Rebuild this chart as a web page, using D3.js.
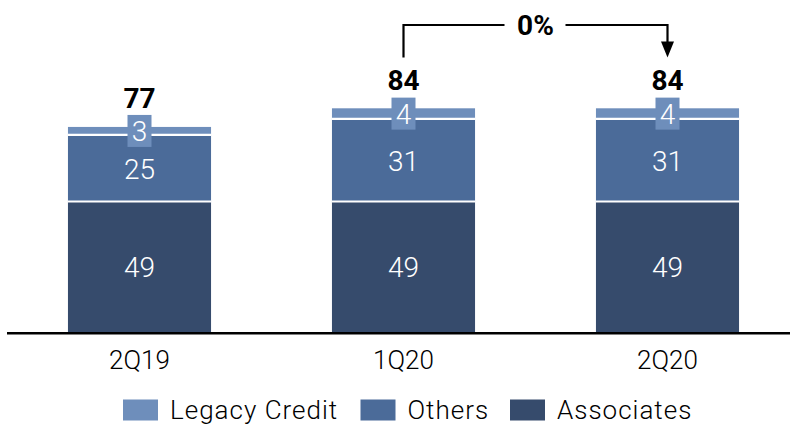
<!DOCTYPE html>
<html><head><meta charset="utf-8">
<script src="https://cdn.jsdelivr.net/npm/d3@7/dist/d3.min.js"></script>
<style>
body{margin:0;background:#fff}
svg{display:block}
text{font-family:Roboto,"Liberation Sans",Arial,sans-serif}
</style>
</head><body>
<svg id="chart" width="790" height="425"></svg>
<script>
// ---- data ----
const categories = ["2Q19", "1Q20", "2Q20"];
const associates = [49, 49, 49];
const others = [25, 31, 31];
const legacyCredit = [3, 4, 4];
const totals = [77, 84, 84];
const seriesNames = ["Legacy Credit", "Others", "Associates"];
const changeFrom = "1Q20", changeTo = "2Q20", changeLabel = "0%";

// ---- styles ----
const colors = {"Associates": "#364b6c", "Others": "#4b6b99", "Legacy Credit": "#6e8ebb"};

const rows = categories.map((c, i) => ({
  cat: c, "Associates": associates[i], "Others": others[i], "Legacy Credit": legacyCredit[i], total: totals[i]
}));
const stackKeys = ["Associates", "Others", "Legacy Credit"];
const series = d3.stack().keys(stackKeys)(rows);

const svg = d3.select("#chart");
const x = d3.scaleBand().domain(categories).range([7.5, 799.5]).paddingInner(0.458).paddingOuter(0.229);
const y = d3.scaleLinear().domain([0, 84]).range([332, 108.3]);
const bw = x.bandwidth();

// bars
const g = svg.append("g");
series.forEach(s => {
  g.selectAll(null).data(s).enter().append("rect")
    .attr("x", d => x(d.data.cat))
    .attr("y", d => y(d[1]))
    .attr("width", bw)
    .attr("height", d => y(d[0]) - y(d[1]))
    .attr("fill", colors[s.key]);
  if (s.index > 0) {
    g.selectAll(null).data(s).enter().append("line")
      .attr("x1", d => x(d.data.cat)).attr("x2", d => x(d.data.cat) + bw)
      .attr("y1", d => y(d[0])).attr("y2", d => y(d[0]))
      .attr("stroke", "#fff").attr("stroke-width", 2.2);
  }
});

// segment labels
series.forEach(s => {
  if (s.key === "Legacy Credit") {
    const lg = g.selectAll(null).data(s).enter().append("g")
      .attr("transform", d => `translate(${x(d.data.cat) + bw / 2},${(y(d[0]) + y(d[1])) / 2})`);
    lg.append("rect").attr("x", -12).attr("y", -16).attr("width", 24).attr("height", 32)
      .attr("fill", colors[s.key]);
    lg.append("text").attr("text-anchor", "middle").attr("y", 10)
      .attr("fill", "#fff").attr("font-size", 28).attr("font-weight", 300)
      .text(d => d.data[s.key]);
  } else {
    g.selectAll(null).data(s).enter().append("text")
      .attr("x", d => x(d.data.cat) + bw / 2)
      .attr("y", d => (y(d[0]) + y(d[1])) / 2 + 10.5)
      .attr("text-anchor", "middle").attr("fill", "#fff")
      .attr("font-size", 28).attr("font-weight", 300)
      .text(d => d.data[s.key]);
  }
});

// totals
svg.selectAll(null).data(rows).enter().append("text")
  .attr("x", d => x(d.cat) + bw / 2)
  .attr("y", d => y(d.total) - 18.5)
  .attr("text-anchor", "middle").attr("font-size", 28).attr("font-weight", 700)
  .attr("fill", "#000")
  .text(d => d.total);

// axis
const axis = svg.append("g").attr("transform", "translate(0,333.3)")
  .call(d3.axisBottom(x).tickSize(0));
axis.select(".domain").attr("stroke", "#000").attr("stroke-width", 2.4).attr("d", "M7,0H790");
axis.selectAll("text").attr("y", 36).attr("dy", 0)
  .attr("font-size", 26).attr("font-weight", 300).attr("fill", "#000")
  .style("font-family", "Roboto, 'Liberation Sans', sans-serif");

// change bracket
const xa = x(changeFrom) + bw / 2, xb = x(changeTo) + bw / 2, xm = (xa + xb) / 2;
const yTop = 25, yEnd = 57.5;
svg.append("path")
  .attr("d", `M${xa},${yEnd}V${yTop}H${xm - 31}M${xm + 30},${yTop}H${xb}V${yEnd - 15}`)
  .attr("fill", "none").attr("stroke", "#000").attr("stroke-width", 2.2);
svg.append("path")
  .attr("d", `M${xb - 6.5},${yEnd - 16}L${xb + 6.5},${yEnd - 16}L${xb},${yEnd}Z`)
  .attr("fill", "#000");
svg.append("text").attr("x", xm).attr("y", 35).attr("text-anchor", "middle")
  .attr("font-size", 28).attr("font-weight", 700).text(changeLabel);

// legend
const legendX = [123, 360.5, 510];
const lgd = svg.append("g");
seriesNames.forEach((n, i) => {
  lgd.append("rect").attr("x", legendX[i]).attr("y", 399.5).attr("width", 35).attr("height", 21)
    .attr("fill", colors[n]);
  lgd.append("text").attr("x", legendX[i] + 47).attr("y", 419)
    .attr("font-size", 26).attr("font-weight", 300).attr("letter-spacing", 1)
    .attr("fill", "#000").text(n);
});
</script>
</body></html>
